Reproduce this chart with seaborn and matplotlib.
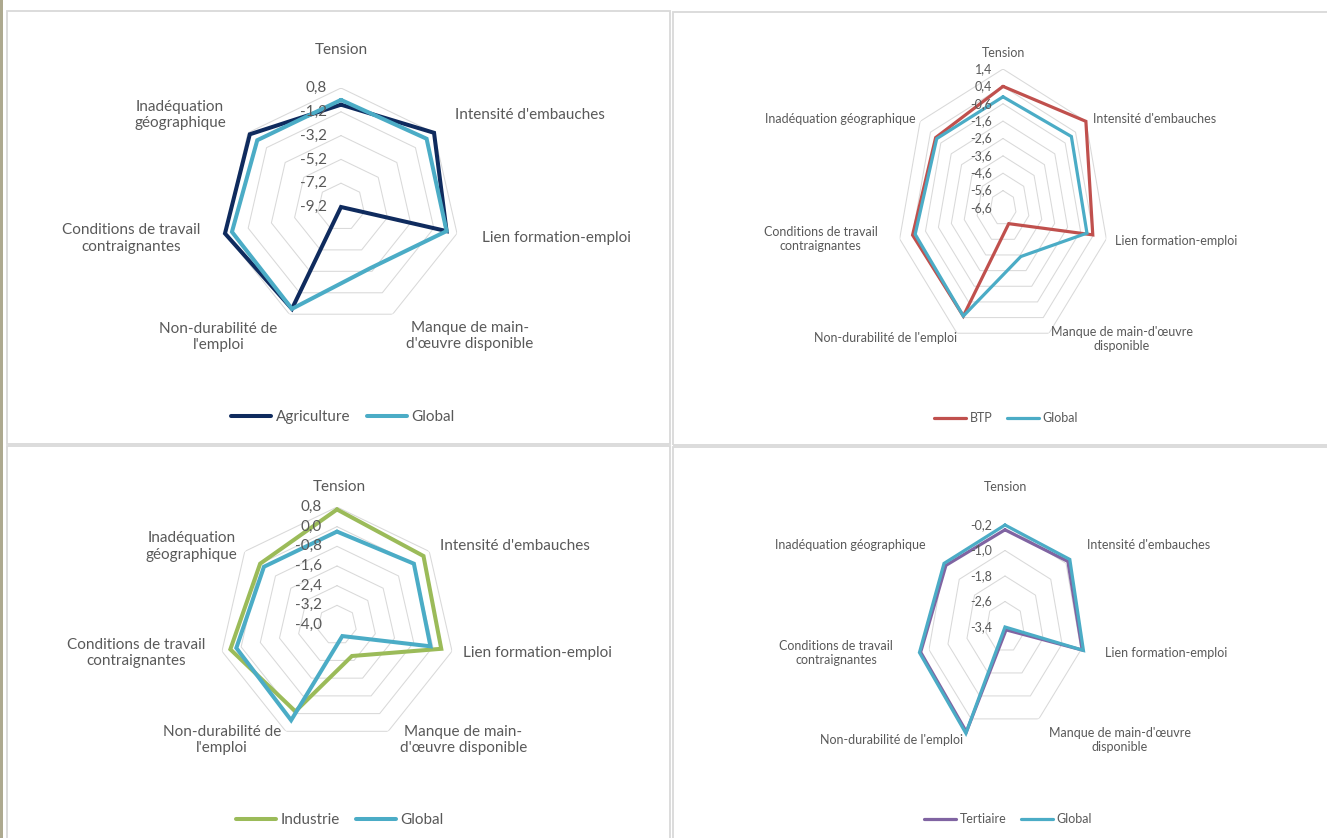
import numpy as np
import pandas as pd
import seaborn as sns
import matplotlib.pyplot as plt
from matplotlib.patches import Rectangle
from matplotlib.lines import Line2D

# categories (axes of the radar, clockwise from the top)
categories = ["Tension", "Intensité d'embauches", "Lien formation-emploi",
              "Manque de main-d'œuvre disponible", "Non-durabilité de l'emploi",
              "Conditions de travail contraignantes", "Inadéquation géographique"]
labels_wide = ["Tension", "Intensité d'embauches", "Lien formation-emploi",
               "Manque de main-\nd'œuvre disponible", "Non-durabilité de\nl'emploi",
               "Conditions de travail\ncontraignantes", "Inadéquation\ngéographique"]
labels_narrow = ["Tension", "Intensité d'embauches", "Lien formation-emploi",
                 "Manque de main-d'œuvre\ndisponible", "Non-durabilité de l'emploi",
                 "Conditions de travail\ncontraignantes", "Inadéquation géographique"]

# series values (same order as categories)
global_values = [-0.2, 0.0, -0.1, -3.5, 0.3, 0.2, -0.2]
agriculture = [-0.6, 0.8, -0.1, -9.2, 0.3, 0.8, 0.6]
btp = [0.4, 1.4, 0.35, -5.6, 0.3, 0.4, -0.1]
industrie = [0.7, 0.5, 0.35, -2.6, -0.1, 0.45, 0.0]
tertiaire = [-0.35, -0.1, -0.15, -3.3, 0.25, 0.15, -0.3]

# radial ticks of each panel
ticks_agriculture = [-9.2, -7.2, -5.2, -3.2, -1.2, 0.8]
ticks_btp = [-6.6, -5.6, -4.6, -3.6, -2.6, -1.6, -0.6, 0.4, 1.4]
ticks_industrie = [-4.0, -3.2, -2.4, -1.6, -0.8, 0.0, 0.8]
ticks_tertiaire = [-3.4, -2.6, -1.8, -1.0, -0.2]

W, H = 1327, 838
GLOBAL_COLOR = "#4BACC6"
GRID = "#D9D9D9"
TXT = "#595959"

sns.set_theme(style="white")
plt.rcParams['font.family'] = ['Lato', 'DejaVu Sans']

fig = plt.figure(figsize=(W / 100, H / 100), dpi=100)
fig.patch.set_facecolor("white")

# panel frames and the strip on the left edge
for x0, y0, x1, y1 in [(7, 11, 670, 444), (673, 12, 1332, 445),
                       (7, 446, 670, 842), (673, 447, 1332, 842)]:
    fig.patches.append(Rectangle((x0 / W, 1 - y1 / H), (x1 - x0) / W, (y1 - y0) / H,
                                 transform=fig.transFigure, fill=False,
                                 edgecolor=GRID, lw=1.3))
fig.patches.append(Rectangle((0, 0), 3 / W, 1, transform=fig.transFigure,
                             facecolor="#ADA98F", edgecolor="none"))

angles = np.linspace(0, 2 * np.pi, len(categories), endpoint=False)
ang_closed = np.append(angles, 2 * np.pi)

# offsets of category labels from the outer vertex (px: dx, dy downwards, ha)
off_p1 = [(0, -38, 'center'), (21, -18, 'left'), (25, 5, 'left'), (77, 22, 'center'),
          (-71, 23, 'center'), (-25, 5, 'right'), (-22, -18, 'right')]
off_p2 = [(1, -16, 'center'), (7, -2, 'left'), (9, 2, 'left'), (73, 6, 'center'),
          (-71, 5, 'center'), (-22, 0, 'right'), (-5, -2, 'right')]
off_p3 = [(2, -20, 'center'), (11, -5, 'left'), (11, 2, 'left'), (75, 9, 'center'),
          (-64, 9, 'center'), (-17, 2, 'right'), (-7, -5, 'right')]
off_p4 = [(1, -38, 'center'), (21, -18, 'left'), (24, 3, 'left'), (81, 21, 'center'),
          (-80, 21, 'center'), (-36, 3, 'right'), (-18, -18, 'right')]

panels = [
    dict(name="Agriculture", values=agriculture, color="#0F2B5E", ticks=ticks_agriculture,
         labels=labels_wide, c=(341, 207), r=(119, 119), fs=11, lw=2.9,
         off=off_p1, tick_dx=14, leg=(343, 417)),
    dict(name="BTP", values=btp, color="#C0504D", ticks=ticks_btp,
         labels=labels_narrow, c=(1003, 208), r=(106, 139), fs=9, lw=2.3,
         off=off_p2, tick_dx=11, leg=(1006, 418)),
    dict(name="Industrie", values=industrie, color="#9BBB59", ticks=ticks_industrie,
         labels=labels_wide, c=(337, 625), r=(118, 118), fs=11, lw=2.9,
         off=off_p3, tick_dx=15, leg=(340, 820)),
    dict(name="Tertiaire", values=tertiaire, color="#8064A2", ticks=ticks_tertiaire,
         labels=labels_narrow, c=(1005, 627), r=(78, 102), fs=9, lw=2.3,
         off=off_p4, tick_dx=13, leg=(1008, 819)),
]

for p in panels:
    cx, cy = p["c"]
    rx, ry = p["r"]
    lo, hi = p["ticks"][0], p["ticks"][-1]
    ax = fig.add_axes([(cx - rx) / W, 1 - (cy + ry) / H, 2 * rx / W, 2 * ry / H],
                      projection="polar")
    ax.set_aspect("auto")
    ax.set_theta_zero_location("N")
    ax.set_theta_direction(-1)

    vals = np.clip(np.append(p["values"], p["values"][0]), lo, None)
    gvals = np.clip(np.append(global_values, global_values[0]), lo, None)
    df = pd.DataFrame({
        "angle": np.concatenate([ang_closed, ang_closed]),
        "value": np.concatenate([vals, gvals]),
        "serie": [p["name"]] * len(ang_closed) + ["Global"] * len(ang_closed),
    })
    sns.lineplot(data=df, x="angle", y="value", hue="serie",
                 hue_order=[p["name"], "Global"],
                 palette={p["name"]: p["color"], "Global": GLOBAL_COLOR},
                 sort=False, estimator=None, lw=p["lw"], legend=False, ax=ax,
                 clip_on=False, solid_joinstyle="miter", zorder=3)

    # heptagonal grid (no spokes, as in the original)
    for t in p["ticks"]:
        ax.plot(ang_closed, [t] * len(ang_closed), color=GRID, lw=0.75, zorder=1)

    ax.set_ylim(lo, hi)
    ax.set_xticks([])
    ax.set_yticks([])
    ax.grid(False)
    ax.spines["polar"].set_visible(False)
    ax.patch.set_visible(False)
    ax.set_xlabel("")
    ax.set_ylabel("")

    # radial value labels
    for t in p["ticks"]:
        txt = f"{round(t, 1) + 0.0:.1f}".replace(".", ",")
        ax.annotate(txt, xy=(0, t), xytext=(-p["tick_dx"] * 0.72, 0),
                    textcoords="offset points", ha="right", va="center",
                    fontsize=p["fs"], color=TXT, annotation_clip=False)

    # category labels
    for a, lab, (dx, dy, ha) in zip(angles, p["labels"], p["off"]):
        ax.annotate(lab, xy=(a, hi), xytext=(dx * 0.72, -dy * 0.72),
                    textcoords="offset points", ha=ha, va="center",
                    multialignment="center", fontsize=p["fs"], color=TXT,
                    annotation_clip=False)

    handles = [Line2D([], [], color=p["color"], lw=p["lw"]),
               Line2D([], [], color=GLOBAL_COLOR, lw=p["lw"])]
    lx, ly = p["leg"]
    ax.legend(handles, [p["name"], "Global"], loc="center",
              bbox_to_anchor=(lx / W, 1 - ly / H), bbox_transform=fig.transFigure,
              ncol=2, frameon=False, fontsize=p["fs"], labelcolor=TXT,
              handlelength=2.6, handletextpad=0.3, columnspacing=1.1)

fig.savefig("out.png", dpi=100)
